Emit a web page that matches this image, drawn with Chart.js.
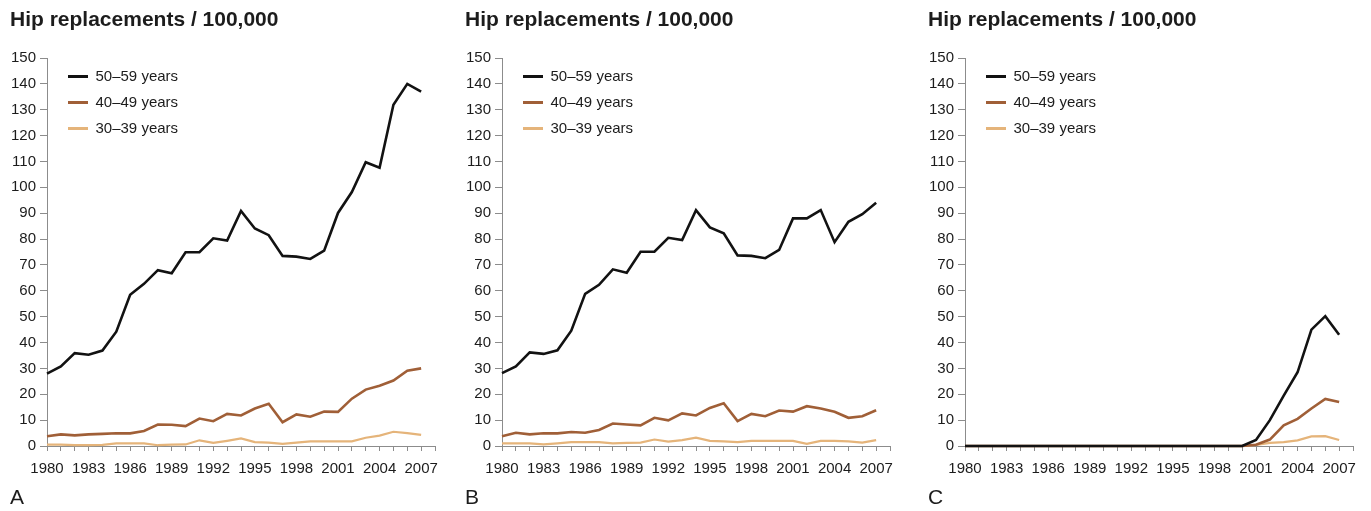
<!DOCTYPE html>
<html>
<head>
<meta charset="utf-8">
<script src="https://cdn.jsdelivr.net/npm/chart.js@4.4.1/dist/chart.umd.min.js"></script>
<style>
  body { margin: 0; background: #fff; width: 1371px; height: 511px; overflow: hidden; position: relative; }
  canvas { position: absolute; top: 0; }
</style>
</head>
<body>
<canvas id="painel_a" width="453" height="511" style="left:0px"></canvas>
<canvas id="painel_b" width="453" height="511" style="left:455px"></canvas>
<canvas id="painel_c" width="453" height="511" style="left:918px"></canvas>
<script>
/* Hip replacements per 100,000, by age group, 1980-2007 (three panels A, B, C) */

const anos = [1980, 1981, 1982, 1983, 1984, 1985, 1986, 1987, 1988, 1989,
    1990, 1991, 1992, 1993, 1994, 1995, 1996, 1997, 1998, 1999,
    2000, 2001, 2002, 2003, 2004, 2005, 2006, 2007];

const rotulos_anos = [1980, 1983, 1986, 1989, 1992, 1995, 1998, 2001, 2004, 2007];

const nomes_series = ['50–59 years', '40–49 years', '30–39 years'];

// painel A
const a_50_59 = [28, 30.8, 35.9, 35.3, 36.9, 44.2, 58.5, 62.7, 68, 66.8,
    74.9, 74.9, 80.3, 79.4, 90.9, 84.1, 81.5, 73.5, 73.2, 72.3,
    75.5, 90.1, 98.2, 109.7, 107.6, 131.9, 140, 137];
const a_40_49 = [3.8, 4.5, 4.1, 4.5, 4.7, 4.9, 4.9, 5.8, 8.3, 8.2,
    7.7, 10.6, 9.6, 12.4, 11.8, 14.5, 16.3, 9.2, 12.2, 11.3,
    13.3, 13.2, 18.3, 21.8, 23.3, 25.3, 29.1, 30];
const a_30_39 = [0.5, 0.5, 0.3, 0.3, 0.4, 1, 1, 1, 0.3, 0.5,
    0.6, 2.2, 1.2, 2, 2.9, 1.5, 1.3, 0.8, 1.3, 1.8,
    1.8, 1.8, 1.8, 3.2, 4, 5.5, 5, 4.3];

// painel B
const b_50_59 = [28.2, 30.8, 36.2, 35.6, 37, 44.6, 58.8, 62.3, 68.3, 67,
    75.1, 75.1, 80.5, 79.6, 91.2, 84.5, 82.2, 73.7, 73.5, 72.6,
    75.8, 88, 88, 91.2, 78.8, 86.7, 89.6, 94];
const b_40_49 = [3.8, 5.1, 4.5, 4.9, 4.9, 5.4, 5.1, 6.2, 8.7, 8.3,
    8, 10.9, 9.9, 12.6, 11.8, 14.7, 16.5, 9.6, 12.4, 11.5,
    13.7, 13.3, 15.4, 14.5, 13.2, 10.9, 11.5, 13.8];
const b_30_39 = [1, 1, 1, 0.6, 1, 1.5, 1.5, 1.5, 1, 1.2,
    1.3, 2.5, 1.7, 2.3, 3.2, 2, 1.8, 1.5, 2, 2,
    2, 2, 0.8, 2, 2, 1.8, 1.3, 2.3];

// painel C
const c_50_59 = [0, 0, 0, 0, 0, 0, 0, 0, 0, 0,
    0, 0, 0, 0, 0, 0, 0, 0, 0, 0,
    0, 2.3, 10, 19.5, 28.5, 45, 50.2, 43];
const c_40_49 = [0, 0, 0, 0, 0, 0, 0, 0, 0, 0,
    0, 0, 0, 0, 0, 0, 0, 0, 0, 0,
    0, 0.5, 2.5, 8, 10.5, 14.5, 18.2, 17];
const c_30_39 = [0, 0, 0, 0, 0, 0, 0, 0, 0, 0,
    0, 0, 0, 0, 0, 0, 0, 0, 0, 0,
    0, 0.4, 1.2, 1.5, 2.2, 3.7, 3.8, 2.3];

const cores = ['#121212', '#a05f37', '#e5b47a'];
const espessuras = [2.6, 2.6, 2.2];
const fonte = "'Liberation Sans', Arial, Helvetica, sans-serif";
const cor_texto = '#1c1c1c';
const cor_eixo = '#8c8c8c';

// coloca a legenda dentro da área do gráfico, um pouco afastada do eixo
const desloca_legenda = {
    id: 'desloca_legenda',
    afterLayout(chart) {
        const legenda = chart.legend;
        const area = chart.chartArea;
        if (!legenda) return;
        const w = legenda.width;
        const h = legenda.height;
        legenda.left = area.left + 10;
        legenda.top = area.top;
        legenda.right = legenda.left + w;
        legenda.bottom = legenda.top + h;
    }
};

function cria_grafico(id, series, letra) {
    const datasets = series.map((valores, i) => ({
        label: nomes_series[i],
        data: anos.map((ano, j) => ({ x: ano, y: valores[j] })),
        borderColor: cores[i],
        backgroundColor: cores[i],
        borderWidth: espessuras[i],
        pointRadius: 0,
        tension: 0,
        clip: 4
    }));

    return new Chart(document.getElementById(id), {
        type: 'line',
        data: { datasets: datasets },
        options: {
            responsive: false,
            animation: false,
            events: [],
            layout: { padding: { left: 10, right: 18, top: 0, bottom: 0 } },
            plugins: {
                title: {
                    display: true,
                    text: 'Hip replacements / 100,000',
                    align: 'start',
                    color: cor_texto,
                    font: { family: fonte, size: 21, weight: 'bold' },
                    padding: { top: 8, bottom: 24.8 }
                },
                subtitle: {
                    display: true,
                    text: letra,
                    position: 'bottom',
                    align: 'start',
                    color: cor_texto,
                    font: { family: fonte, size: 21, weight: 'normal' },
                    padding: { top: 0, bottom: 0 }
                },
                legend: {
                    position: 'chartArea',
                    align: 'start',
                    labels: {
                        boxWidth: 20,
                        boxHeight: 3,
                        padding: 11,
                        color: cor_texto,
                        font: { family: fonte, size: 15 },
                        generateLabels: chart => Chart.defaults.plugins.legend.labels
                            .generateLabels(chart)
                            .map(item => Object.assign(item, { lineWidth: 0 }))
                    }
                },
                tooltip: { enabled: false }
            },
            scales: {
                x: {
                    type: 'linear',
                    min: 1980,
                    max: 2008,
                    afterFit: scale => { scale.height = 39.8; },
                    grid: { drawOnChartArea: false, tickLength: 5, color: cor_eixo },
                    border: { color: cor_eixo },
                    ticks: {
                        stepSize: 1,
                        autoSkip: false,
                        maxRotation: 0,
                        padding: 9,
                        color: cor_texto,
                        font: { family: fonte, size: 15 },
                        callback: v => rotulos_anos.includes(v) ? String(v) : ''
                    }
                },
                y: {
                    min: 0,
                    max: 150,
                    afterFit: scale => { scale.width = 37; },
                    grid: { drawOnChartArea: false, tickLength: 7, color: cor_eixo },
                    border: { color: cor_eixo },
                    ticks: {
                        stepSize: 10,
                        padding: 4,
                        color: cor_texto,
                        font: { family: fonte, size: 15 }
                    }
                }
            }
        },
        plugins: [desloca_legenda]
    });
}

const grafico_a = cria_grafico('painel_a', [a_50_59, a_40_49, a_30_39], 'A');
const grafico_b = cria_grafico('painel_b', [b_50_59, b_40_49, b_30_39], 'B');
const grafico_c = cria_grafico('painel_c', [c_50_59, c_40_49, c_30_39], 'C');
</script>
</body>
</html>
